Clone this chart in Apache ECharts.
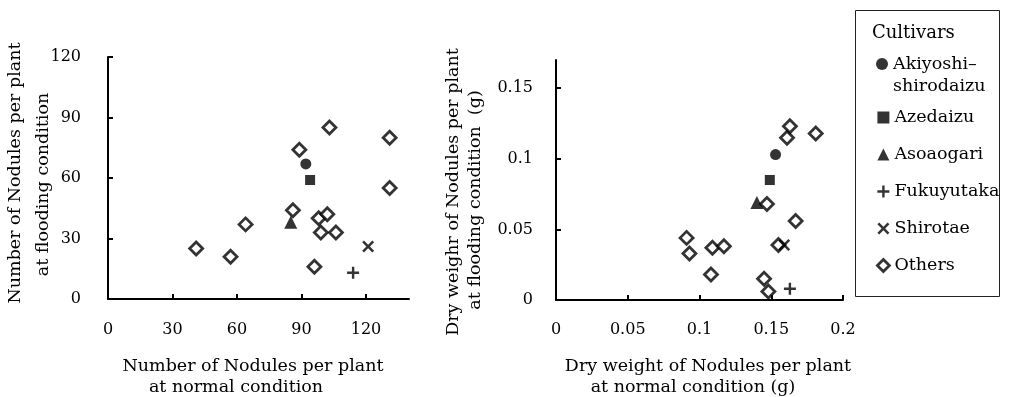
<!DOCTYPE html>
<html>
<head>
<meta charset="utf-8">
<script src="https://cdn.jsdelivr.net/npm/echarts@6/dist/echarts.min.js"></script>
<style>
  html, body { margin: 0; padding: 0; background: #fff; }
  #main { width: 1010px; height: 397px; }
</style>
</head>
<body>
<div id="main"></div>
<script>
  // number of nodules per plant [normal, flooding]
  var akiCnt = [[92, 67]];
  var azeCnt = [[94, 59]];
  var asoCnt = [[85, 38]];
  var fukCnt = [[114, 13]];
  var shiCnt = [[121, 26]];
  var othCnt = [[41, 25], [57, 21], [64, 37], [86, 44], [89, 74], [103, 85], [131, 80],
    [131, 55], [98, 40], [102, 42], [99, 33], [106, 33], [96, 16]];

  // dry weight of nodules per plant (g) [normal, flooding]
  var akiWt = [[0.153, 0.103]];
  var azeWt = [[0.149, 0.085]];
  var asoWt = [[0.140, 0.069]];
  var fukWt = [[0.163, 0.008]];
  var shiWt = [[0.159, 0.039]];
  var othWt = [[0.091, 0.044], [0.093, 0.033], [0.109, 0.037], [0.117, 0.038], [0.108, 0.018],
    [0.145, 0.015], [0.148, 0.006], [0.147, 0.068], [0.167, 0.056], [0.155, 0.039],
    [0.161, 0.115], [0.163, 0.123], [0.181, 0.118]];

  // tick values
  var xCntTicks = [0, 30, 60, 90, 120];
  var yCntTicks = [0, 30, 60, 90, 120];
  var xWtTicks = [0, 0.05, 0.1, 0.15, 0.2];
  var yWtTicks = [0, 0.05, 0.1, 0.15];

  var cultivars = ['Akiyoshi-shirodaizu', 'Azedaizu', 'Asoaogari', 'Fukuyutaka', 'Shirotae', 'Others'];

  var font = 'DejaVu Serif';
  var ink = '#000';
  var plusPath = 'path://M4,0H6V4H10V6H6V10H4V6H0V4H4Z';
  var crossPath = 'path://M1.5,0L5,3.5L8.5,0L10,1.5L6.5,5L10,8.5L8.5,10L5,6.5L1.5,10L0,8.5L3.5,5L0,1.5Z';

  // marker look per cultivar
  var marks = {
    'Akiyoshi-shirodaizu': { symbol: 'circle', size: 11, style: { color: ink } },
    'Azedaizu': { symbol: 'rect', size: 10, style: { color: ink } },
    'Asoaogari': { symbol: 'triangle', size: 13, style: { color: ink } },
    'Fukuyutaka': { symbol: plusPath, size: 12, style: { color: ink } },
    'Shirotae': { symbol: crossPath, size: 12, style: { color: ink } },
    'Others': { symbol: 'diamond', size: 13, style: { color: '#fff', borderColor: ink, borderWidth: 2.8 } }
  };

  function sc(name, data, idx) {
    var m = marks[name];
    return {
      name: name,
      type: 'scatter',
      xAxisIndex: idx,
      yAxisIndex: idx,
      symbol: m.symbol,
      symbolSize: m.size,
      itemStyle: m.style,
      data: data,
      z: name === 'Others' ? 2 : 3
    };
  }

  // two-line axis title, each line nudged with padding [top, right, bottom, left]
  function nameStyle(lh, padA, padB) {
    var base = { color: ink, fontFamily: font, fontSize: 17.5, lineHeight: lh };
    return {
      color: ink, fontFamily: font, fontSize: 17.5, lineHeight: lh,
      rich: {
        a: Object.assign({ padding: padA }, base),
        b: Object.assign({ padding: padB }, base)
      }
    };
  }

  function axisBase(ticks) {
    return {
      type: 'value',
      splitLine: { show: false },
      axisLine: { show: true, lineStyle: { color: ink, width: 2 } },
      axisTick: { show: true, inside: true, length: 5, customValues: ticks, lineStyle: { color: ink, width: 2 } },
      axisLabel: { color: ink, fontFamily: font, fontSize: 16, customValues: ticks },
      nameLocation: 'middle',
      nameMoveOverlap: false
    };
  }

  var xCnt = Object.assign(axisBase(xCntTicks), {
    gridIndex: 0, min: 0, max: 140,
    name: '{a|Number of Nodules per plant}\n{b|at normal condition}', nameGap: 57,
    nameTextStyle: nameStyle(21, [0, 11, 0, 0], [0, 45, 0, 0])
  });
  xCnt.axisLabel.margin = 23;

  var yCnt = Object.assign(axisBase(yCntTicks), {
    gridIndex: 0, min: 0, max: 120,
    name: '{a|Number of Nodules per plant}\n{b|at flooding condition}', nameGap: 51,
    nameTextStyle: nameStyle(28, [0, 0, 0, 10], [0, 13, 0, 0])
  });
  yCnt.axisLabel.margin = 27;

  var xWt = Object.assign(axisBase(xWtTicks), {
    gridIndex: 1, min: 0, max: 0.2,
    name: '{a|Dry weight of Nodules per plant}\n{b|at normal condition (g)}', nameGap: 56,
    nameTextStyle: nameStyle(21, [0, 0, 0, 17], [0, 13, 0, 0])
  });
  xWt.axisLabel.margin = 22;

  var yWt = Object.assign(axisBase(yWtTicks), {
    gridIndex: 1, min: 0, max: 0.17,
    name: '{a|Dry weighr of Nodules per plant}\n{b|at flooding condition  (g)}', nameGap: 70,
    nameTextStyle: nameStyle(22, [0, 24, 0, 0], [0, 40, 0, 0])
  });
  yWt.axisLabel.margin = 23;

  var legendData = cultivars.map(function (n) {
    var m = marks[n];
    return { name: n, icon: m.symbol, itemStyle: m.style };
  });

  var chart = echarts.init(document.getElementById('main'));
  chart.setOption({
    backgroundColor: '#fff',
    animation: false,
    title: {
      text: 'Cultivars', left: 872, top: 24, padding: 0,
      textStyle: { color: ink, fontFamily: font, fontSize: 18, fontWeight: 'normal' }
    },
    graphic: [{
      type: 'rect', shape: { x: 855.5, y: 10.5, width: 144, height: 286 },
      style: { fill: 'none', stroke: '#222', lineWidth: 1 }
    }],
    legend: [{
      data: legendData.slice(0, 1),
      orient: 'vertical', left: 876, top: 31, padding: 0,
      itemWidth: 12, itemHeight: 12,
      formatter: function () { return ' \nAkiyoshi\u2013\nshirodaizu'; },
      textStyle: { color: ink, fontFamily: font, fontSize: 17.5, lineHeight: 22 }
    }, {
      data: legendData.slice(1),
      orient: 'vertical', left: 876, top: 107, padding: 0,
      itemWidth: 12, itemHeight: 12, itemGap: 16,
      textStyle: { color: ink, fontFamily: font, fontSize: 17.5, lineHeight: 21 }
    }],
    grid: [
      { left: 108, top: 57, width: 301, height: 242, outerBoundsMode: 'none' },
      { left: 556, top: 60, width: 287, height: 240, outerBoundsMode: 'none' }
    ],
    xAxis: [xCnt, xWt],
    yAxis: [yCnt, yWt],
    series: [
      sc('Others', othCnt, 0),
      sc('Akiyoshi-shirodaizu', akiCnt, 0),
      sc('Azedaizu', azeCnt, 0),
      sc('Asoaogari', asoCnt, 0),
      sc('Fukuyutaka', fukCnt, 0),
      sc('Shirotae', shiCnt, 0),
      sc('Others', othWt, 1),
      sc('Akiyoshi-shirodaizu', akiWt, 1),
      sc('Azedaizu', azeWt, 1),
      sc('Asoaogari', asoWt, 1),
      sc('Fukuyutaka', fukWt, 1),
      sc('Shirotae', shiWt, 1)
    ]
  });
</script>
</body>
</html>
